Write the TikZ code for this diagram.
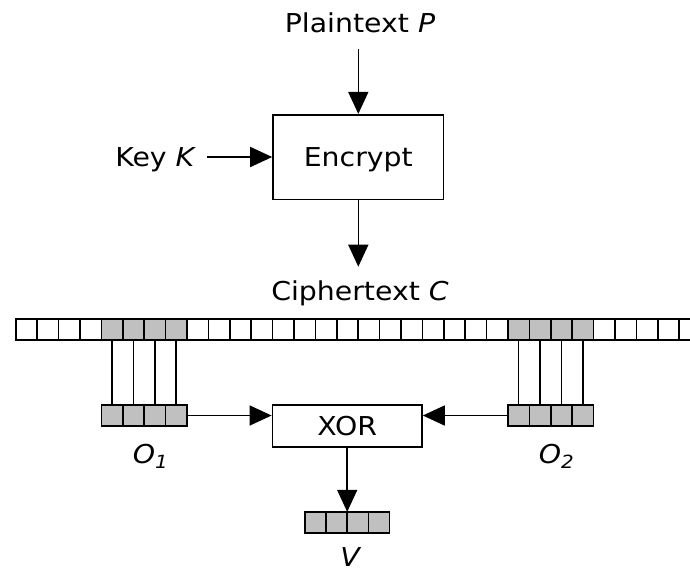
\documentclass[tikz,border=0pt]{standalone}
\usepackage{fontspec}
\setmainfont{DejaVu Sans}[FakeStretch=1.09]
\usetikzlibrary{arrows.meta}
\definecolor{cellgray}{RGB}{192,192,192}

\begin{document}
\begin{tikzpicture}[x=1pt,y=-1pt,line width=1.6pt,
  every node/.style={font=\fontsize{26}{31}\selectfont},
  lbl/.style={anchor=base,inner sep=0pt},
  box/.style={draw,inner sep=0pt,text height=19pt,text depth=0pt},
  cell/.style={draw,inner sep=0pt,outer sep=0pt,minimum width=21.4pt,minimum height=21.3pt},
  s0/.style={fill=white},
  s1/.style={fill=cellgray},
  arr/.style={-{Triangle[length=22pt,width=20pt]}}]
\useasboundingbox (0,0) rectangle (690,571);

% encryption stage
\node[box,minimum width=170.6pt,minimum height=84.6pt] (enc) at (358.3,157) {Encrypt};
\node[lbl] (pt) at (360,32.3) {Plaintext \textit{P}};
\node[lbl,anchor=base east] (key) at (197,166.5) {Key \textit{K}};
\node[lbl] (ct) at (360,300.7) {Ciphertext \textit{C}};
\coordinate (ptend) at (358.3,49.3);
\coordinate (keyend) at (207.3,157);
\coordinate (ctend) at (358.3,266.7);
\draw[arr] (ptend) -- (enc.north);
\draw[arr] (keyend) -- (enc.west);
\draw[arr] (enc.south) -- (ctend);

% ciphertext cells
\foreach \i in {0,...,31}{
  \pgfmathtruncatemacro\g{((\i>=4)&&(\i<=7))||((\i>=23)&&(\i<=26))}
  \node[cell,s\g] (c\i) at ({26.4+21.4*\i},329.5) {};
}

% the two extracted blocks
\foreach \j in {1,...,4}{
  \pgfmathtruncatemacro\ka{\j+3}
  \pgfmathtruncatemacro\kb{\j+22}
  \node[cell,s1] (a\j) at ({26.4+21.4*\ka},415.5) {};
  \node[cell,s1] (b\j) at ({26.4+21.4*\kb},415.5) {};
  \draw (c\ka.south) -- (a\j.north);
  \draw (c\kb.south) -- (b\j.north);
}
\node[lbl] (o1) at (150.5,463.3) {\textit{O\textsubscript{1}}};
\node[lbl] (o2) at (556.5,463.3) {\textit{O\textsubscript{2}}};

% combination
\node[box,minimum width=149.6pt,minimum height=42pt] (xor) at (347.2,426) {XOR};
\draw[arr] (a4.east) -- (a4.east -| xor.west);
\draw[arr] (b1.west) -- (b1.west -| xor.east);

% result block
\foreach \j in {1,...,4}{
  \node[cell,s1,minimum width=21.1pt] (v\j) at ({315.55+21.1*(\j-1)},522.5) {};
}
\node[lbl] (vl) at (351,566) {\textit{V}};
\draw[arr] (xor.south) -- (xor.south |- v1.north);
\end{tikzpicture}
\end{document}
